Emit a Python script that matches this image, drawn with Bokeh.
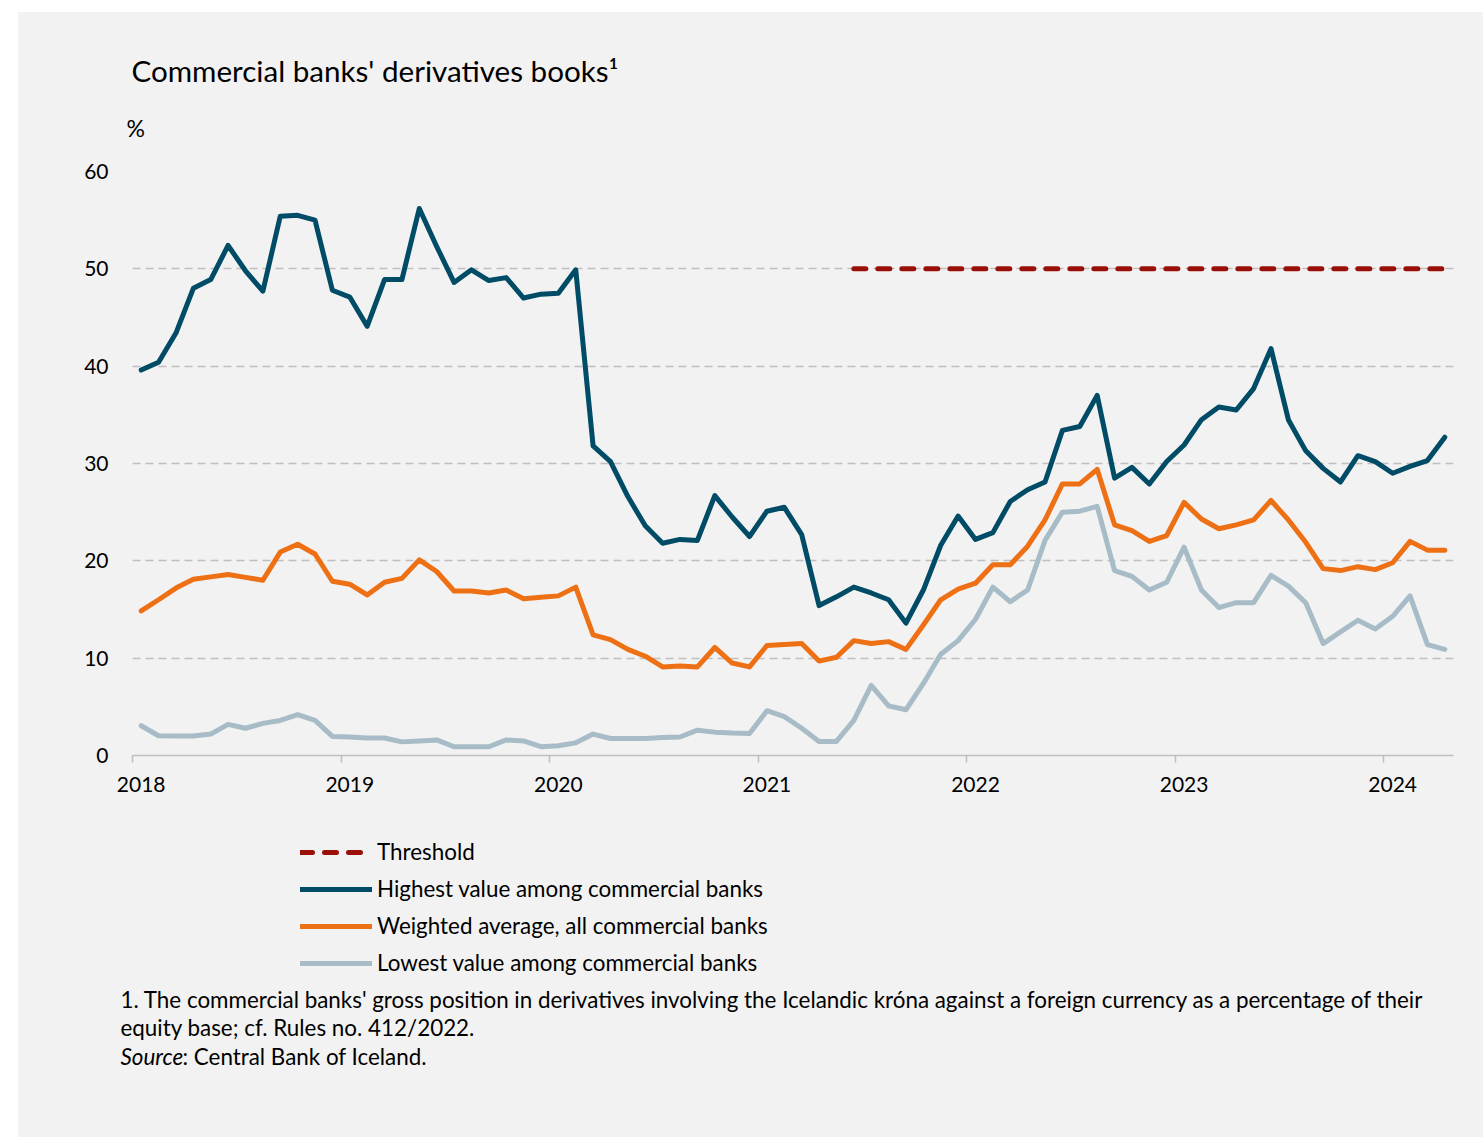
import numpy as np
import pandas as pd
from bokeh.plotting import figure
from bokeh.layouts import column
from bokeh.models import Range1d, FixedTicker, Label, Legend, LegendItem
from bokeh.embed import file_html
from bokeh.resources import INLINE

# ---------------- data ----------------
months = pd.date_range("2018-01-01", "2024-04-01", freq="MS")
year_labels = ["2018", "2019", "2020", "2021", "2022", "2023", "2024"]

highest = [39.6, 40.4, 43.4, 48.0, 48.9, 52.4, 49.8, 47.7, 55.4, 55.5, 55.0, 47.8,
           47.1, 44.1, 48.9, 48.9, 56.2, 52.3, 48.6, 49.9, 48.8, 49.1, 47.0, 47.4,
           47.5, 49.9, 31.8, 30.2, 26.6, 23.6, 21.8, 22.2, 22.1, 26.7, 24.5, 22.5,
           25.1, 25.5, 22.7, 15.4, 16.3, 17.3, 16.7, 16.0, 13.6, 17.0, 21.6, 24.6,
           22.2, 22.9, 26.1, 27.3, 28.1, 33.4, 33.8, 37.0, 28.5, 29.6, 27.9, 30.2,
           31.9, 34.5, 35.8, 35.5, 37.7, 41.8, 34.5, 31.3, 29.5, 28.1, 30.8, 30.2,
           29.0, 29.7, 30.3, 32.7]

weighted = [14.85, 16.0, 17.2, 18.1, 18.35, 18.6, 18.3, 18.0, 20.9, 21.7, 20.7, 17.9,
            17.6, 16.5, 17.8, 18.2, 20.1, 18.9, 16.9, 16.9, 16.7, 17.0, 16.1, 16.25,
            16.4, 17.3, 12.4, 11.9, 10.9, 10.2, 9.1, 9.2, 9.1, 11.1, 9.5, 9.1,
            11.3, 11.4, 11.5, 9.7, 10.1, 11.8, 11.5, 11.7, 10.9, 13.4, 16.0, 17.1,
            17.7, 19.6, 19.6, 21.5, 24.2, 27.9, 27.9, 29.4, 23.7, 23.1, 22.0, 22.6,
            26.0, 24.3, 23.3, 23.7, 24.2, 26.2, 24.2, 21.9, 19.2, 19.0, 19.4, 19.1,
            19.8, 22.0, 21.1, 21.1]

lowest = [3.06, 2.03, 2.0, 2.0, 2.2, 3.2, 2.8, 3.3, 3.6, 4.2, 3.6, 1.96,
          1.9, 1.8, 1.8, 1.4, 1.5, 1.6, 0.9, 0.9, 0.9, 1.6, 1.5, 0.9,
          1.0, 1.3, 2.2, 1.75, 1.75, 1.75, 1.85, 1.9, 2.6, 2.4, 2.3, 2.25,
          4.6, 4.0, 2.8, 1.45, 1.45, 3.6, 7.2, 5.1, 4.7, 7.4, 10.4, 11.8,
          14.0, 17.3, 15.8, 17.0, 22.1, 25.0, 25.1, 25.6, 19.0, 18.4, 17.0, 17.8,
          21.4, 17.0, 15.2, 15.7, 15.7, 18.5, 17.4, 15.7, 11.5, 12.7, 13.9, 13.0,
          14.3, 16.4, 11.4, 10.9]

threshold_level = 50
threshold_start = pd.Timestamp("2021-06-01")

y_ticks = [0, 10, 20, 30, 40, 50, 60]

series_names = ["Threshold",
                "Highest value among commercial banks",
                "Weighted average, all commercial banks",
                "Lowest value among commercial banks"]

title_text = "Commercial banks' derivatives books\u00b9"
unit_text = "%"
note_lines = ["1. The commercial banks' gross position in derivatives involving the Icelandic kr\u00f3na "
              "against a foreign currency as a percentage of their",
              "equity base; cf. Rules no. 412/2022."]
source_label = "Source"
source_text = ": Central Bank of Iceland."

# ---------------- styling ----------------
BG = "#f2f2f2"
C_HIGH = "#004b66"
C_AVG = "#ee7015"
C_LOW = "#a7bcc6"
C_THR = "#9a0f08"
GRID = "#bfbfbf"
FONT = "Lato"
LW = 5

n = len(months)
x = np.arange(n) + 0.5
threshold = [threshold_level if m >= threshold_start else np.nan for m in months]

# page geometry (column placed at page x=18, y=12)
OX, OY = 18, 12
W = 1465
TOP_H = 140
FL, FR, FT, FB = 114, 30, 19, 55
FRAME_H = 584
MAIN_H = FT + FRAME_H + FB
BOT_H = 1125 - TOP_H - MAIN_H
ymax = 60


def blank_fig(h):
    f = figure(width=W, height=h, x_range=Range1d(0, W), y_range=Range1d(0, h),
               output_backend="svg", toolbar_location=None,
               x_axis_location=None, y_axis_location=None,
               min_border=0, min_border_left=0, min_border_right=0,
               min_border_top=0, min_border_bottom=0,
               background_fill_color=BG, border_fill_color=BG, outline_line_color=None)
    f.frame_align = False
    f.xgrid.visible = False
    f.ygrid.visible = False
    return f


def add_text(f, fig_top, txt, px, py, size, style="normal"):
    # px: page pixel of text start; py: page pixel of text baseline
    s = float(size.replace("px", ""))
    f.add_layout(Label(x=px - OX, y=(fig_top + f.height) - (py - 0.42 * s), text=txt,
                       text_font=FONT, text_font_size=size, text_font_style=style,
                       text_color="#000000", text_align="left", text_baseline="alphabetic"))


# ---------------- top: title and unit ----------------
top = blank_fig(TOP_H)
TOP_Y = OY
add_text(top, TOP_Y, title_text, 131, 82.7, "29.6px")
add_text(top, TOP_Y, unit_text, 126, 136.7, "23px")

# ---------------- main chart ----------------
p = figure(width=W, height=MAIN_H, x_range=Range1d(0, n), y_range=Range1d(0, ymax),
           output_backend="svg", toolbar_location=None,
           min_border_left=FL, min_border_right=FR, min_border_top=FT, min_border_bottom=FB,
           background_fill_color=BG, border_fill_color=BG, outline_line_color=None)
p.frame_align = False

p.xaxis.ticker = FixedTicker(ticks=[12 * k + 0.5 for k in range(len(year_labels))],
                             minor_ticks=[12 * k for k in range(len(year_labels))])
p.xaxis.major_label_overrides = {12 * k + 0.5: lab for k, lab in enumerate(year_labels)}
p.xaxis.major_tick_line_color = None
p.xaxis.major_tick_out = 0
p.xaxis.major_tick_in = 0
p.xaxis.minor_tick_line_color = GRID
p.xaxis.minor_tick_line_width = 1.5
p.xaxis.minor_tick_out = 7
p.xaxis.minor_tick_in = 0
p.xaxis.axis_line_color = GRID
p.xaxis.axis_line_width = 1.5
p.xaxis.major_label_standoff = 14
p.xaxis.major_label_text_font = FONT
p.xaxis.major_label_text_font_size = "21px"
p.xaxis.major_label_text_color = "#000000"

p.yaxis.ticker = FixedTicker(ticks=y_ticks)
p.yaxis.axis_line_color = None
p.yaxis.major_tick_line_color = None
p.yaxis.minor_tick_line_color = None
p.yaxis.major_tick_out = 0
p.yaxis.major_tick_in = 0
p.yaxis.major_label_standoff = 24
p.yaxis.major_label_text_font = FONT
p.yaxis.major_label_text_font_size = "21px"
p.yaxis.major_label_text_color = "#000000"

p.xgrid.visible = False
p.ygrid.ticker = FixedTicker(ticks=y_ticks[1:])
p.ygrid.grid_line_color = GRID
p.ygrid.grid_line_width = 1.5
p.ygrid.grid_line_dash = "8 5"

p.line(x, lowest, line_color=C_LOW, line_width=LW, line_join="round", line_cap="round")
p.line(x, weighted, line_color=C_AVG, line_width=LW, line_join="round", line_cap="round")
p.line(x, highest, line_color=C_HIGH, line_width=LW, line_join="round", line_cap="round")
p.line(x, threshold, line_color=C_THR, line_width=LW, line_dash="12 12", line_cap="round")

# ---------------- bottom: legend and notes ----------------
bot = blank_fig(BOT_H)
BOT_Y = OY + TOP_H + MAIN_H
styles = [dict(line_color=C_THR, line_dash="12 12", line_cap="round"),
          dict(line_color=C_HIGH, line_cap="round"),
          dict(line_color=C_AVG, line_cap="round"),
          dict(line_color=C_LOW, line_cap="round")]
items = []
for name, st in zip(series_names, styles):
    # legend proxy renderer (no visible data in this panel)
    r = bot.line(x=[np.nan], y=[np.nan], line_width=LW, **st)
    items.append(LegendItem(label=name, renderers=[r]))

legend = Legend(items=items)
legend.location = (300 - OX, (BOT_Y + BOT_H) - 976.7)
legend.orientation = "vertical"
legend.padding = 0
legend.margin = 0
legend.spacing = 9
legend.glyph_width = 72
legend.glyph_height = 28
legend.label_height = 28
legend.label_standoff = 5
legend.label_text_font = FONT
legend.label_text_font_size = "22.4px"
legend.label_text_color = "#000000"
legend.background_fill_alpha = 0
legend.border_line_alpha = 0
bot.add_layout(legend)

add_text(bot, BOT_Y, note_lines[0], 120, 1008.3, "22.4px")
add_text(bot, BOT_Y, note_lines[1], 120, 1036.7, "22.4px")
add_text(bot, BOT_Y, source_label, 120, 1065, "22.4px", "italic")
add_text(bot, BOT_Y, source_text, 182, 1065, "22.4px")

layout = column(top, p, bot, spacing=0, margin=(OY, 0, 0, OX),
                styles={"background-color": BG})
open("out.html", "w").write(file_html(layout, INLINE))
